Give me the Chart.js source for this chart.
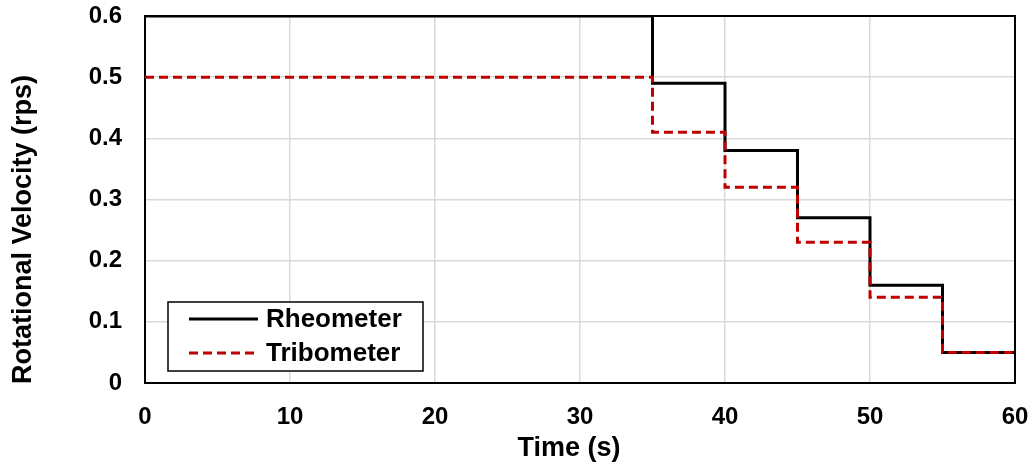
<!DOCTYPE html>
<html>
<head>
<meta charset="utf-8">
<script src="https://cdn.jsdelivr.net/npm/chart.js@4.4.1/dist/chart.umd.min.js"></script>
<style>
    html, body { margin: 0; padding: 0; background: #ffffff; }
    #contenitore { width: 1032px; height: 465px; }
</style>
</head>
<body>
<div id="contenitore"><canvas id="grafico"></canvas></div>
<script>
// dati
var tempi = [0, 35, 40, 45, 50, 55, 60];
var reometro = [0.6, 0.49, 0.38, 0.27, 0.16, 0.05, 0.05];
var tribometro = [0.5, 0.41, 0.32, 0.23, 0.14, 0.05, 0.05];
var nomiSerie = ["Rheometer", "Tribometer"];
var tickX = [0, 10, 20, 30, 40, 50, 60];
var tickY = [0, 0.1, 0.2, 0.3, 0.4, 0.5, 0.6];
var titoloX = "Time (s)";
var titoloY = "Rotational Velocity (rps)";

var FONT = "'Liberation Sans', Arial, sans-serif";
var ROSSO = "#C00000";

function punti(valori){
    var out = [];
    for (var i = 0; i < tempi.length; i++){
        out.push({x: tempi[i], y: valori[i]});
    }
    return out;
}

// cornice dell'area del grafico, sotto le linee
var cornice = {
    id: "cornice",
    beforeDatasetsDraw: function(chart){
        var a = chart.chartArea;
        var ctx = chart.ctx;
        ctx.save();
        ctx.strokeStyle = "#000000";
        ctx.lineWidth = 2;
        ctx.strokeRect(a.left, a.top, a.right - a.left, a.bottom - a.top);
        ctx.restore();
    }
};

// titoli degli assi (un po' spostati come nell'originale)
var titoliAssi = {
    id: "titoliAssi",
    afterDraw: function(chart){
        var ctx = chart.ctx;
        var a = chart.chartArea;
        ctx.save();
        ctx.fillStyle = "#000000";
        ctx.font = "bold 27px " + FONT;
        ctx.textAlign = "center";
        ctx.textBaseline = "alphabetic";
        ctx.fillText(titoloX, (a.left + a.right) / 2 - 11, 456);

        ctx.translate(24, a.bottom + 1);
        ctx.rotate(-Math.PI / 2);
        ctx.textAlign = "left";
        ctx.textBaseline = "middle";
        ctx.fillText(titoloY, 0, 0);
        ctx.restore();
    }
};

// legenda dentro l'area, in basso a sinistra
var legendaInterna = {
    id: "legendaInterna",
    afterDraw: function(chart){
        var ctx = chart.ctx;
        var a = chart.chartArea;
        var x0 = a.left + 23, y0 = a.bottom - 81;
        ctx.save();
        ctx.fillStyle = "#ffffff";
        ctx.fillRect(x0, y0, 255, 69);
        ctx.strokeStyle = "#000000";
        ctx.lineWidth = 1.5;
        ctx.strokeRect(x0, y0, 255, 69);
        ctx.font = "bold 26px " + FONT;
        ctx.textBaseline = "middle";
        var ds = chart.data.datasets;
        for (var i = 0; i < ds.length; i++){
            var yy = y0 + 17 + i * 34;
            ctx.beginPath();
            ctx.strokeStyle = ds[i].borderColor;
            ctx.lineWidth = 3;
            ctx.setLineDash(ds[i].borderDash || []);
            ctx.moveTo(x0 + 21, yy);
            ctx.lineTo(x0 + 90, yy);
            ctx.stroke();
            ctx.setLineDash([]);
            ctx.fillStyle = "#000000";
            ctx.fillText(ds[i].label, x0 + 98, yy + 1);
        }
        ctx.restore();
    }
};

function creaGrafico(){
    var context = document.getElementById("grafico").getContext("2d");
    new Chart(context, {
        type: "line",
        data: {
            datasets: [{
                label: nomiSerie[0],
                data: punti(reometro),
                borderColor: "#000000",
                borderWidth: 3,
                stepped: "before",
                pointRadius: 0,
                fill: false,
                order: 1
            }, {
                label: nomiSerie[1],
                data: punti(tribometro),
                borderColor: ROSSO,
                borderWidth: 3,
                borderDash: [9, 5],
                stepped: "before",
                pointRadius: 0,
                fill: false,
                order: 0
            }]
        },
        options: {
            responsive: true,
            maintainAspectRatio: false,
            animation: false,
            layout: { padding: { left: 0, top: 16, right: 17, bottom: 0 } },
            plugins: {
                legend: { display: false },
                tooltip: { enabled: false }
            },
            scales: {
                x: {
                    type: "linear",
                    min: 0,
                    max: 60,
                    afterBuildTicks: function(s){ s.ticks = tickX.map(function(v){ return {value: v}; }); },
                    afterFit: function(s){
                        s.height = 82;
                        s.paddingLeft = 0;
                        s.paddingRight = 0;
                    },
                    grid: { color: "#d9d9d9", lineWidth: 1.5, drawTicks: false },
                    border: { display: false },
                    ticks: {
                        padding: 20,
                        color: "#000000",
                        maxRotation: 0,
                        font: { family: FONT, size: 24, weight: "bold" }
                    },
                    title: { display: false }
                },
                y: {
                    type: "linear",
                    min: 0,
                    max: 0.6,
                    afterBuildTicks: function(s){ s.ticks = tickY.map(function(v){ return {value: v}; }); },
                    afterFit: function(s){
                        s.width = 145;
                        s.paddingTop = 0;
                        s.paddingBottom = 0;
                    },
                    grid: { color: "#d9d9d9", lineWidth: 1.5, drawTicks: false },
                    border: { display: false },
                    ticks: {
                        padding: 23,
                        color: "#000000",
                        font: { family: FONT, size: 24, weight: "bold" },
                        callback: function(v){ return v === 0 ? "0" : v.toFixed(1); }
                    },
                    title: { display: false }
                }
            }
        },
        plugins: [cornice, titoliAssi, legendaInterna]
    });
}

document.addEventListener("DOMContentLoaded", function(){
    creaGrafico();
});
</script>
</body>
</html>
